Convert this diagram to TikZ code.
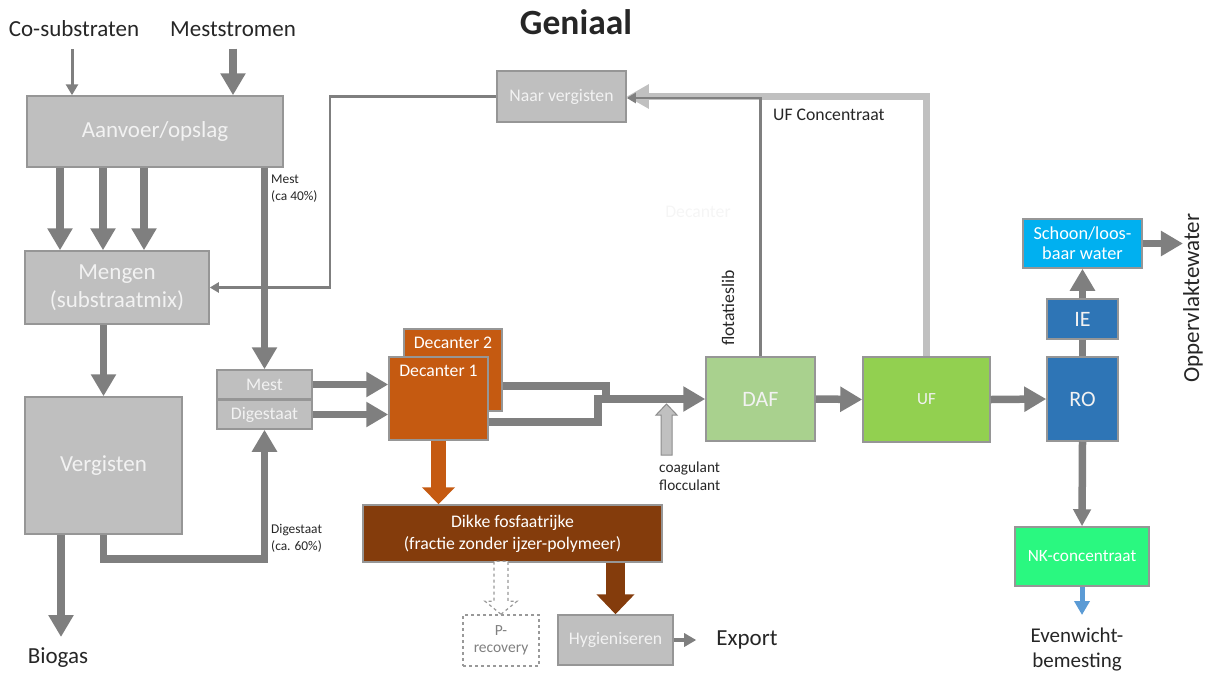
\documentclass[tikz,border=0pt]{standalone}
\usepackage{fontspec}
\setmainfont{Carlito}
\usetikzlibrary{arrows.meta,calc}

\definecolor{boxgrijs}{RGB}{191,191,191}
\definecolor{randgrijs}{RGB}{150,150,150}
\definecolor{pijlgrijs}{RGB}{127,127,127}
\definecolor{lichtgrijs}{RGB}{192,192,192}
\definecolor{tekstwit}{RGB}{242,242,242}
\definecolor{decoranje}{RGB}{197,90,17}
\definecolor{dikbruin}{RGB}{132,60,12}
\definecolor{dafgroen}{RGB}{169,209,142}
\definecolor{ufgroen}{RGB}{146,208,80}
\definecolor{roblauw}{RGB}{46,117,182}
\definecolor{schoonblauw}{RGB}{0,176,240}
\definecolor{nkgroen}{RGB}{42,248,128}
\definecolor{pijlblauw}{RGB}{91,155,213}

\newcommand\fgroot{\fontsize{23}{28}\selectfont}
\newcommand\fmidden{\fontsize{17.7}{21}\selectfont}
\newcommand\fklein{\fontsize{13.4}{17}\selectfont}

\tikzset{
  blok/.style={draw=randgrijs, line width=1.5pt, inner sep=0pt, align=center, text=tekstwit},
  grijsblok/.style={blok, fill=boxgrijs},
  stroom/.style={draw=pijlgrijs, line width=7.5pt, -{Triangle[width=24pt,length=22pt]}},
  stroomlijn/.style={draw=pijlgrijs, line width=7.5pt},
  dunstroom/.style={draw=pijlgrijs, line width=2.5pt, -{Triangle[width=10pt,length=9pt]}},
  tekst/.style={inner sep=0pt, text=black!85},
}

\begin{document}
\begin{tikzpicture}[x=1pt, y=-1pt]
\useasboundingbox (0,0) rectangle (1209,673);

% titels en invoer
\node[tekst, font=\bfseries\fontsize{35.5}{40}\selectfont] (titel) at (576,22) {Geniaal};
\node[tekst, font=\fgroot] (cosub) at (74,29) {Co-substraten};
\node[tekst, font=\fgroot] (meststr) at (233,29) {Meststromen};

% blokken links
\node[grijsblok, minimum width=256pt, minimum height=71pt, font=\fgroot] (aanvoer) at (155,131.5) {Aanvoer/opslag};
\node[grijsblok, minimum width=184pt, minimum height=73pt, font=\fgroot, align=center] (mengen) at (117,287.5) {Mengen\\(substraatmix)};
\node[grijsblok, minimum width=157pt, minimum height=137pt, font=\fgroot] (vergisten) at (103.5,465.5) {Vergisten};
\node[grijsblok, minimum width=95pt, minimum height=29pt, font=\fmidden] (mest) at (264.5,384.5) {Mest};
\node[grijsblok, minimum width=95pt, minimum height=29pt, font=\fmidden] (digest) at (264.5,414.5) {Digestaat};
\node[grijsblok, minimum width=129pt, minimum height=51pt, font=\fmidden] (naar) at (561.5,96.5) {Naar vergisten};

% decanters en dikke fractie
\node[blok, fill=decoranje, minimum width=98pt, minimum height=82pt,
  label={[font=\fmidden, text=white, anchor=north, label distance=-5pt]north:Decanter 2}] (dec2) at (453,370) {};
\node[blok, fill=decoranje, minimum width=99pt, minimum height=83pt,
  label={[font=\fmidden, text=white, anchor=north, label distance=-5pt]north:Decanter 1}] (dec1) at (438.5,398.5) {};
\node[blok, fill=dikbruin, minimum width=299pt, minimum height=57pt, font=\fontsize{17.7}{22}\selectfont, text=white] (dikke) at (512.5,533.5) {Dikke fosfaatrijke\\(fractie zonder ijzer-polymeer)};
\node[grijsblok, minimum width=115pt, minimum height=50pt, font=\fmidden] (hyg) at (615.5,640) {Hygieniseren};
\node[blok, draw=black!40, dashed, fill=white, minimum width=76pt, minimum height=51pt, font=\fontsize{15.5}{17}\selectfont, text=black!50] (precov) at (501,640.5) {P-\\recovery};

% dunne fractie
\node[blok, fill=dafgroen, minimum width=109pt, minimum height=84pt, font=\fontsize{22}{26}\selectfont] (daf) at (760.5,399) {DAF};
\node[blok, fill=ufgroen, minimum width=127pt, minimum height=85pt, font=\fontsize{17}{20}\selectfont] (uf) at (926.5,399.5) {UF};
\node[blok, fill=roblauw, minimum width=71pt, minimum height=84pt, font=\fontsize{22}{26}\selectfont] (ro) at (1082.5,399) {RO};
\node[blok, fill=roblauw, minimum width=71pt, minimum height=40pt, font=\fontsize{22}{26}\selectfont] (ie) at (1082.5,319) {IE};
\node[blok, fill=schoonblauw, minimum width=119pt, minimum height=49pt, font=\fontsize{18.3}{20}\selectfont, text=white] (schoon) at (1082.5,243.5) {Schoon/loos-\\baar water};
\node[blok, fill=nkgroen, minimum width=134pt, minimum height=59pt, font=\fontsize{17.2}{20}\selectfont, text=white] (nk) at (1082,556.5) {NK-concentraat};

% losse teksten
\node[tekst, font=\fklein, align=left, anchor=west] (mestlbl) at (271,188.5) {Mest\\(ca 40\%)};
\node[tekst, font=\fklein, align=left, anchor=west] (diglbl) at (271,538) {Digestaat\\(ca. 60\%)};
\node[tekst, font=\fontsize{15.3}{18.5}\selectfont, align=left, anchor=west] (coaglbl) at (659,476) {coagulant\\flocculant};
\node[tekst, font=\fmidden, anchor=west] (ufconc) at (773,115) {UF Concentraat};
\node[tekst, font=\fmidden, rotate=90] (flotlbl) at (728,308) {flotatieslib};
\node[tekst, font=\fmidden, text=black!4] (decvaag) at (698,212) {Decanter};
\node[tekst, font=\fgroot, rotate=90] (opw) at (1193,298) {Oppervlaktewater};
\node[tekst, font=\fgroot] (export) at (747,640) {Export};
\node[tekst, font=\fgroot] (biogas) at (58,658) {Biogas};
\node[tekst, font=\fontsize{21}{25}\selectfont, align=center] (evw) at (1077,649) {Evenwicht-\\bemesting};

% invoerpijlen
\draw[draw=pijlgrijs, line width=3pt, -{Triangle[width=12pt,length=11pt]}] (cosub.south -| 72,0) ++(0,12) -- (72,0 |- aanvoer.north);
\draw[stroom] (meststr.south) ++(0,12) -- (meststr.south |- aanvoer.north);

% aanvoer naar mengen en vergisten
\foreach \x in {60,103,144}
  \draw[stroom] (aanvoer.south -| \x,0) -- (mengen.north -| \x,0);
\draw[stroom] (mengen.south -| vergisten.north) -- (vergisten.north);
\draw[stroom] (aanvoer.south -| mest.north) -- (mest.north);
\draw[stroom] (vergisten.south -| 61,0) -- (61,637);
\draw[stroom] (vergisten.south) -- ++(0,24) -| (digest.south);
\draw[dunstroom] (naar.west) -| ($(mengen.east)+(120,0)$) -- (mengen.east);

% naar decanters
\draw[stroom] (mest.east) -- (mest.east -| dec1.west);
\draw[stroom] (digest.east) -- (digest.east -| dec1.west);
\coordinate (samen) at (602,399);
\draw[stroomlijn] (dec2.east |- 0,386) -| ($(samen)+(4,0)$);
\draw[stroom] (dec1.east |- 0,422) -| ($(samen)+(-4,0)$) -- (daf.west);
\draw[draw=decoranje, line width=15pt, -{Triangle[width=32pt,length=17pt]}] (dec1.south) -- (dec1.south |- dikke.north);
\draw[draw=dikbruin, line width=19pt, -{Triangle[width=37pt,length=20pt]}] (dikke.south -| hyg.north) -- (hyg.north);
\draw[draw=black!40, dashed, line width=1.2pt, fill=white] (precov.north) -- ++(16,-13) -- ++(-9,0) -- ++(0,-40) -- ++(-14,0) -- ++(0,40) -- ++(-9,0) -- cycle;
\draw[draw=pijlgrijs, line width=3.5pt, shorten >=20pt, -{Triangle[width=13pt,length=12pt]}] (hyg.east) -- (export.west);

% coagulant
\coordinate (coagpunt) at (666.5,404);
\draw[draw=black!45, fill=lichtgrijs, line width=1pt] (coagpunt) -- ++(10.5,11) -- ++(-5,0) -- ++(0,40) -- ++(-11,0) -- ++(0,-40) -- ++(-5,0) -- cycle;

% dunne fractie
\draw[stroom] (daf.east) -- (uf.west);
\draw[stroom] (uf.east) -- (ro.west);
\draw[draw=lichtgrijs, line width=7pt, -{Triangle[width=23pt,length=22pt]}] (uf.north) |- (naar.east);
\draw[dunstroom] (daf.north) |- ([yshift=-1.5pt]naar.east);
\draw[stroomlijn] (ro.north) -- (ie.south);
\draw[stroom] (ie.north) -- (schoon.south);
\draw[stroom] (schoon.east) -- (schoon.east -| opw.north);
\draw[draw=pijlgrijs, line width=7.5pt, -{Triangle[width=17pt,length=17pt]}] (ro.south) -- (nk.north);
\draw[draw=pijlblauw, line width=5pt, -{Triangle[width=15pt,length=14pt]}] (nk.south) -- (1082,615);
\end{tikzpicture}
\end{document}
